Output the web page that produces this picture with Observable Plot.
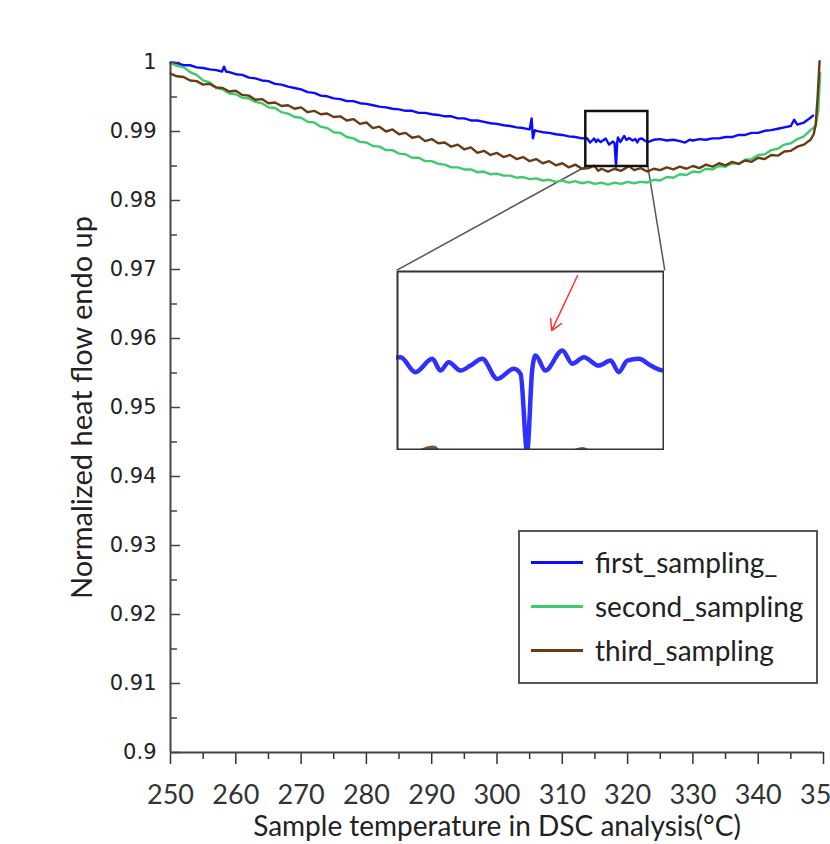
<!DOCTYPE html>
<html><head><meta charset="utf-8">
<script src="https://cdn.jsdelivr.net/npm/d3@7"></script>
<script src="https://cdn.jsdelivr.net/npm/@observablehq/plot@0.6"></script>
<style>
html,body{margin:0;padding:0;background:#fff;}
#wrap{position:relative;width:830px;height:844px;overflow:hidden;background:#fff;}
#wrap svg{position:absolute;left:0;top:0;}
#legend{position:absolute;border:2px solid #555;background:#fff;box-sizing:border-box;font-family:Lato,"Open Sans",sans-serif;font-size:28px;color:#222;padding-top:8px;}
#legend .row{display:flex;align-items:center;height:44px;}
#legend .sw{width:52px;height:3px;margin-left:11px;margin-right:12px;}
</style></head><body><div id="wrap"></div><script>
// ---------- data ----------
const seriesNames = ["first_sampling_", "second_sampling", "third_sampling"];
const seriesColors = ["#0b0bff", "#3dcb6b", "#6a3a12"];

const xTicks = [250, 260, 270, 280, 290, 300, 310, 320, 330, 340, 350];
const xMinorTicks = [255, 265, 275, 285, 295, 305, 315, 325, 335, 345];
const yTicks = [0.9, 0.91, 0.92, 0.93, 0.94, 0.95, 0.96, 0.97, 0.98, 0.99, 1];
const yTickLabels = ["0.9", "0.91", "0.92", "0.93", "0.94", "0.95", "0.96", "0.97", "0.98", "0.99", "1"];
const yMinorTicks = [0.905, 0.915, 0.925, 0.935, 0.945, 0.955, 0.965, 0.975, 0.985, 0.995];
const xDomain = [250, 350];
const yDomain = [0.9, 1.0];
const xTitle = "Sample temperature in DSC analysis(°C)";
const yTitle = "Normalized heat flow endo up";

// zoomed region (data coords) and where the inset sits (data coords of main chart)
const zoomX = [313.6, 323.1];
const zoomY = [0.98493, 0.99290];
const insetX = [284.6, 325.7];
const insetY = [0.94377, 0.96986];
const arrowPts = [{x1: 320.02, y1: 0.99268, x2: 319.10, y2: 0.99024}];

const firstSampling = [
[250,1.0000],[251,0.9999],[252,0.9996],[253,0.9996],[254,0.9993],[255,0.9992],[256,0.9990],[257,0.9989],[257.9,0.9987],[258.2,0.9994],[258.5,0.9987],[259,0.9986],[260,0.9983],[261,0.9982],[262,0.9978],[263,0.9977],[264,0.9974],[265,0.9973],[266,0.9969],[267,0.9968],[268,0.9965],[269,0.9963],[270,0.9961],[271,0.9957],[272,0.9956],[273,0.9952],[274,0.9951],[275,0.9948],[276,0.9947],[277,0.9944],[278,0.9944],[279,0.9941],[280,0.9940],[281,0.9938],[282,0.9936],[283,0.9935],[284,0.9933],[285,0.9932],[286,0.9930],[287,0.9930],[288,0.9927],[289,0.9927],[290,0.9925],[291,0.9924],[292,0.9922],[293,0.9922],[294,0.9919],[295,0.9919],[296,0.9916],[297,0.9916],[298,0.9914],[299,0.9912],[300,0.9911],[301,0.9909],[302,0.9908],[303,0.9906],[304,0.9905],[305,0.9903],[305.3,0.9919],[305.5,0.9890],[305.8,0.9902],[306,0.9901],[307,0.9899],[308,0.9898],[309,0.9896],[310,0.9895],[311,0.9893],[312,0.9892],[313,0.9890],
[313.74,0.98906],[314.27,0.98840],[314.87,0.98899],[315.16,0.98847],[315.45,0.98884],[315.87,0.98847],[316.22,0.98869],[316.64,0.98899],[317.17,0.98810],[317.76,0.98855],[318.00,0.98832],[318.23,0.98490],[318.41,0.98850],[318.53,0.98914],[318.88,0.98847],[319.48,0.98936],[319.83,0.98877],[320.24,0.98906],[320.77,0.98869],[321.19,0.98891],[321.48,0.98840],[321.78,0.98891],[322.19,0.98899],[322.61,0.98869],[323.08,0.98847],
[324,0.9888],[325,0.9889],[326,0.9887],[327,0.9888],[328,0.9886],[328.8,0.9884],[329.5,0.9888],[330,0.9887],[331,0.9889],[332,0.9888],[333,0.9890],[334,0.9890],[335,0.9892],[336,0.9892],[337,0.9895],[338,0.9895],[339,0.9898],[340,0.9898],[341,0.9901],[342,0.9902],[343,0.9904],[344,0.9906],[345,0.9908],[345.5,0.9917],[346,0.9910],[347,0.9913],[348,0.9920],[348.4,0.9923]
];

const secondSampling = [
[250,0.9999],[251,0.9995],[252,0.9993],[253,0.9986],[254,0.9982],[255,0.9974],[256,0.9971],[257,0.9963],[258,0.9961],[259,0.9955],[260,0.9954],[261,0.9949],[262,0.9948],[263,0.9943],[264,0.9941],[265,0.9935],[266,0.9934],[267,0.9928],[268,0.9926],[269,0.9921],[270,0.9920],[271,0.9914],[272,0.9913],[273,0.9907],[274,0.9905],[275,0.9899],[276,0.9898],[277,0.9892],[278,0.9890],[279,0.9885],[280,0.9884],[281,0.9879],[282,0.9878],[283,0.9873],[284,0.9873],[285,0.9868],[286,0.9867],[287,0.9862],[288,0.9862],[289,0.9857],[290,0.9857],[291,0.9853],[292,0.9852],[293,0.9848],[294,0.9848],[295,0.9845],[296,0.9845],[297,0.9841],[298,0.9842],[299,0.9838],[300,0.9839],[301,0.9836],[302,0.9836],[303,0.9833],[304,0.9834],[305,0.9831],[306,0.9832],[307,0.9829],[308,0.9830],[309,0.9827],[310,0.9829],[311,0.9826],[312,0.9828],[313,0.9825],[314,0.9827],[315,0.9824],[316,0.9826],[317,0.9823],[318,0.9826],[319,0.9824],[320,0.9827],[321,0.9825],[322,0.9827],[323,0.9826],[324,0.9830],[325,0.9829],[326,0.9834],[327,0.9833],[328,0.9838],[329,0.9837],[330,0.9842],[331,0.9841],[332,0.9846],[333,0.9845],[334,0.9850],[335,0.9849],[336,0.9854],[337,0.9853],[338,0.9859],[339,0.9860],[340,0.9866],[341,0.9867],[342,0.9873],[343,0.9875],[344,0.9881],[345,0.9883],[346,0.9889],[347,0.9893],[348,0.9902],[348.8,0.9908],[349.2,0.9930],[349.5,0.9985]
];

const thirdSampling = [
[250,0.9984],[251,0.9980],[252,0.9979],[253,0.9974],[254,0.9973],[255,0.9968],[256,0.9969],[257,0.9964],[258,0.9963],[259,0.9958],[260,0.9959],[261,0.9953],[262,0.9952],[263,0.9946],[264,0.9947],[265,0.9941],[266,0.9942],[267,0.9937],[268,0.9938],[269,0.9933],[270,0.9935],[271,0.9928],[272,0.9930],[273,0.9925],[274,0.9926],[275,0.9921],[276,0.9922],[277,0.9916],[278,0.9918],[279,0.9911],[280,0.9913],[281,0.9905],[282,0.9907],[283,0.9900],[284,0.9903],[285,0.9896],[286,0.9898],[287,0.9891],[288,0.9893],[289,0.9886],[290,0.9889],[291,0.9883],[292,0.9884],[293,0.9878],[294,0.9881],[295,0.9874],[296,0.9877],[297,0.9869],[298,0.9872],[299,0.9866],[300,0.9869],[301,0.9863],[302,0.9866],[303,0.9860],[304,0.9863],[305,0.9857],[306,0.9860],[307,0.9854],[308,0.9857],[309,0.9851],[310,0.9854],[311,0.9848],[312,0.9852],[313,0.9846],[314,0.9847],[314.9,0.98505],[315.5,0.9843],[316,0.9846],[317,0.9842],[318,0.9846],[319,0.9843],[320.2,0.98498],[321,0.9844],[322,0.9847],[323,0.9842],[324,0.9846],[325,0.9844],[326,0.9848],[327,0.9845],[328,0.9849],[329,0.9846],[330,0.9850],[331,0.9847],[332,0.9852],[333,0.9849],[334,0.9854],[335,0.9851],[336,0.9856],[337,0.9853],[338,0.9858],[339,0.9856],[340,0.9862],[341,0.9860],[342,0.9866],[343,0.9865],[344,0.9871],[345,0.9872],[346,0.9878],[347,0.9881],[348,0.9888],[348.5,0.9896],[348.8,0.9910],[349.1,0.9950],[349.4,1.0002]
];

const allSeries = [firstSampling, secondSampling, thirdSampling];

// ---------- layout ----------
const W = 830, H = 844;
const M = {left: 170, right: 7, top: 62, bottom: 92};
const plotW = W - M.left - M.right;
const axisColor = "#444";
const sansFont = "Lato, 'Open Sans', sans-serif";

const lineMarks = (sw, opts = {}) => allSeries.map((s, i) =>
  Plot.line(s, {x: d => d[0], y: d => d[1], stroke: seriesColors[i], strokeWidth: sw, ...opts}));

const zoomBox = [{x1: zoomX[0], x2: zoomX[1], y1: zoomY[0], y2: zoomY[1]}];
const connectors = [
  {x1: zoomX[0], y1: zoomY[0], x2: insetX[0], y2: insetY[1]},
  {x1: zoomX[1], y1: zoomY[0], x2: insetX[1], y2: insetY[1]}
];

const main = Plot.plot({
  width: W, height: H,
  marginLeft: M.left, marginRight: M.right, marginTop: M.top, marginBottom: M.bottom,
  x: {domain: xDomain},
  y: {domain: yDomain},
  style: {background: "transparent", color: "#222"},
  marks: [
    Plot.link(connectors, {x1: "x1", y1: "y1", x2: "x2", y2: "y2", stroke: "#555", strokeWidth: 1.5}),
    ...lineMarks(2.4),
    Plot.rect(zoomBox, {x1: "x1", x2: "x2", y1: "y1", y2: "y2", fill: "none", stroke: "#111", strokeWidth: 2.5}),
    // axes
    Plot.axisX(xTicks, {tickSize: 12, tickPadding: 20, tickFormat: d => String(d), label: null,
      fontSize: 27, fontFamily: sansFont, color: "#333", strokeWidth: 1.5}),
    Plot.axisX(xMinorTicks, {tickSize: 7, tickFormat: () => "", label: null, color: "#333", strokeWidth: 1.5}),
    Plot.axisY(yTicks, {tickSize: 0, tickPadding: 14, tickFormat: d => yTickLabels[yTicks.indexOf(d)],
      label: null, fontSize: 21, fontFamily: "'DejaVu Sans', sans-serif", color: "#222"}),
    Plot.tickY(yTicks, {y: d => d, insetRight: plotW - 10, stroke: "#444", strokeWidth: 1.5}),
    Plot.tickY(yMinorTicks, {y: d => d, insetRight: plotW - 7, stroke: "#444", strokeWidth: 1.5}),
    Plot.ruleX([xDomain[0]], {stroke: axisColor, strokeWidth: 2}),
    Plot.ruleY([yDomain[0]], {stroke: axisColor, strokeWidth: 2}),
    Plot.text([xTitle], {frameAnchor: "bottom", dy: 83, fontSize: 28, fontFamily: sansFont, fill: "#222"}),
    Plot.text([yTitle], {frameAnchor: "left", dx: -88, rotate: -90, textAnchor: "middle", fontSize: 29, fontFamily: sansFont, fill: "#222"})
  ]
});

const wrap = document.getElementById("wrap");
wrap.appendChild(main);

// ---------- inset ----------
const sx = main.scale("x"), sy = main.scale("y");
const iLeft = sx.apply(insetX[0]), iRight = sx.apply(insetX[1]);
const iTop = sy.apply(insetY[1]), iBottom = sy.apply(insetY[0]);
const inset = Plot.plot({
  width: Math.round(iRight - iLeft), height: Math.round(iBottom - iTop),
  margin: 0,
  x: {domain: zoomX, axis: null},
  y: {domain: zoomY, axis: null},
  style: {background: "#fff"},
  marks: [
    ...lineMarks(4.5, {clip: true, curve: "monotone-x", strokeOpacity: 0.85}),
    Plot.arrow(arrowPts, {x1: "x1", y1: "y1", x2: "x2", y2: "y2", stroke: "#ff3333", strokeWidth: 1.5, headLength: 12}),
    Plot.frame({stroke: "#333", strokeWidth: 2, inset: 1})
  ]
});
inset.style.left = Math.round(iLeft) + "px";
inset.style.top = Math.round(iTop) + "px";
wrap.appendChild(inset);

// ---------- legend ----------
const legend = document.createElement("div");
legend.id = "legend";
legend.style.left = "518px";
legend.style.top = "530px";
legend.style.width = "300px";
legend.style.height = "154px";
seriesNames.forEach((name, i) => {
  const row = document.createElement("div");
  row.className = "row";
  const sw = document.createElement("div");
  sw.className = "sw";
  sw.style.background = seriesColors[i];
  const tx = document.createElement("span");
  tx.textContent = name;
  row.appendChild(sw); row.appendChild(tx);
  legend.appendChild(row);
});
wrap.appendChild(legend);
</script></body></html>
